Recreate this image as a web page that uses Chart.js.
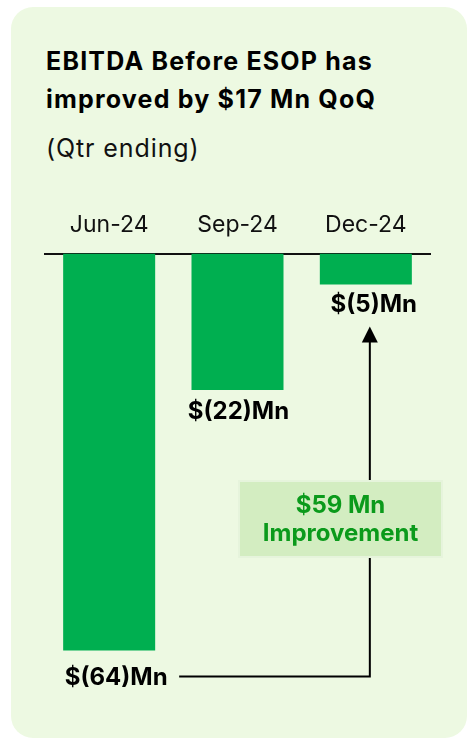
<!DOCTYPE html>
<html lang="en">
<head>
  <meta charset="UTF-8">
  <title>EBITDA Before ESOP</title>
  <script src="https://cdn.jsdelivr.net/npm/chart.js"></script>
  <style>
    html, body { margin: 0; padding: 0; background: #fff; }
    body { width: 471px; height: 741px; position: relative; overflow: hidden; font-family: Inter, "Noto Sans", sans-serif; }
    .card { position: absolute; left: 11px; top: 7px; width: 456px; height: 731px; background: #edf9e2; border-radius: 22px; }
    .title { position: absolute; left: 46px; top: 42px; font-size: 25px; font-weight: 700; line-height: 38px; letter-spacing: 1.2px; color: #000; white-space: nowrap; }
    .sub { position: absolute; left: 46px; top: 129px; font-size: 25px; line-height: 38px; letter-spacing: 0.9px; color: #111; }
    #chart { position: absolute; left: 0; top: 0; }
  </style>
</head>
<body>
  <div class="card"></div>
  <div class="title">EBITDA Before ESOP has<br>improved by $17 Mn QoQ</div>
  <div class="sub">(Qtr ending)</div>
  <canvas id="chart" width="471" height="741"></canvas>
  <script>
    const quarters = ['Jun-24', 'Sep-24', 'Dec-24'];
    const ebitda = [-64, -22, -5];
    const valueLabels = ['$(64)Mn', '$(22)Mn', '$(5)Mn'];
    const improvementText = ['$59 Mn', 'Improvement'];

    // labels under bars + the improvement arrow/box
    const annotate = {
      id: 'annotate',
      afterDatasetsDraw(chart) {
        const ctx = chart.ctx;
        const bars = chart.getDatasetMeta(0).data;
        const offs = [[7, 27], [1, 22], [8, 20]];
        ctx.save();
        ctx.font = '700 24px Inter, sans-serif';
        ctx.fillStyle = '#000';
        ctx.textAlign = 'center';
        ctx.textBaseline = 'middle';
        bars.forEach((b, i) => {
          ctx.fillText(valueLabels[i], b.x + offs[i][0], b.y + offs[i][1]);
        });

        const first = bars[0], last = bars[bars.length - 1];
        const lx = last.x + 4;
        const hy = first.y + 26;
        const tipY = last.y + 42;
        ctx.strokeStyle = '#000';
        ctx.lineWidth = 2;
        ctx.beginPath();
        ctx.moveTo(first.x + 70, hy);
        ctx.lineTo(lx, hy);
        ctx.lineTo(lx, tipY + 14);
        ctx.stroke();
        ctx.fillStyle = '#000';
        ctx.beginPath();
        ctx.moveTo(lx, tipY);
        ctx.lineTo(lx - 8, tipY + 16);
        ctx.lineTo(lx + 8, tipY + 16);
        ctx.closePath();
        ctx.fill();

        // box
        const bx = 239, by = 481, bw = 203, bh = 76;
        ctx.fillStyle = '#d3edc1';
        ctx.fillRect(bx, by, bw, bh);
        ctx.strokeStyle = '#e6f4dc';
        ctx.lineWidth = 2;
        ctx.strokeRect(bx, by, bw, bh);
        ctx.fillStyle = '#0b9a1b';
        ctx.font = '700 24px Inter, sans-serif';
        ctx.fillText(improvementText[0], bx + bw / 2, by + 25);
        ctx.fillText(improvementText[1], bx + bw / 2, by + 53);
        ctx.restore();
      }
    };

    new Chart(document.getElementById('chart'), {
      type: 'bar',
      data: {
        labels: quarters,
        datasets: [{
          data: ebitda,
          backgroundColor: '#00af50',
          borderWidth: 0,
          barPercentage: 0.717,
          categoryPercentage: 1
        }]
      },
      options: {
        responsive: false,
        devicePixelRatio: 1,
        animation: false,
        layout: { padding: { left: 45, right: 41, top: 196, bottom: 41 } },
        plugins: { legend: { display: false }, tooltip: { enabled: false } },
        scales: {
          x: {
            position: 'top',
            grid: { display: false, drawTicks: false },
            border: { display: true, color: '#111', width: 2 },
            ticks: { color: '#111', padding: 15, font: { family: 'Inter', size: 23 } }
          },
          y: { display: false, min: -72, max: 0 }
        }
      },
      plugins: [annotate]
    });
  </script>
</body>
</html>
